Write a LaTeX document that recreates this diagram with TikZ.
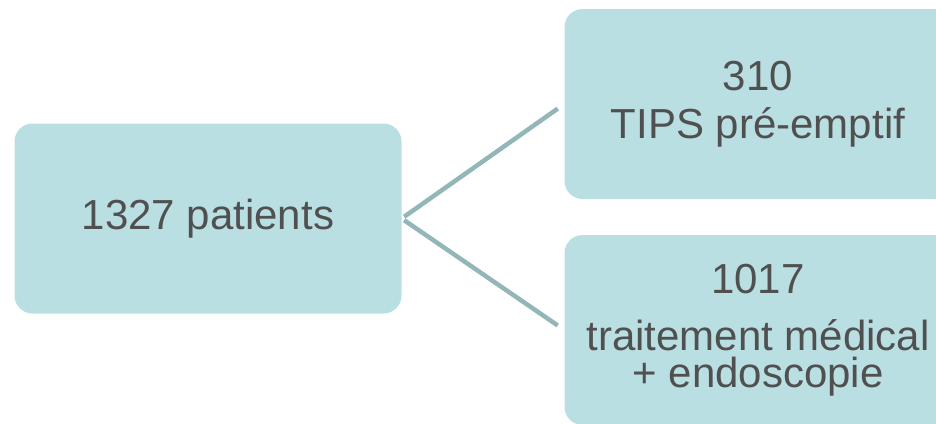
\documentclass[tikz,border=0pt]{standalone}
\usepackage{fontspec}
\setmainfont{Liberation Sans}
\usetikzlibrary{positioning}
\definecolor{boxfill}{HTML}{BADFE2}
\definecolor{linkcol}{HTML}{93B6B8}
\definecolor{txtcol}{HTML}{505050}

\begin{document}
\begin{tikzpicture}[x=1pt,y=-1pt,
  box/.style={fill=boxfill,rounded corners=18pt,text=txtcol,align=center,inner sep=0pt,
    minimum width=387pt,minimum height=190pt,font=\fontsize{42}{37}\selectfont},
  link/.style={draw=linkcol,line width=4.5pt,shorten <=3pt,shorten >=8pt}]
\useasboundingbox (0,0) rectangle (936,423);
\clip (0,0) rectangle (936,423);

% Start box
\node[box] (patients) at (208,218.5) {1327 patients};
% The two groups
\node[box] (tips) at (758,104) {310\\[11pt]TIPS pré-emptif};
\node[box] (medical) at (758,330) {1017\\[20pt]traitement médical\\+ endoscopie};

% From the start box to each group
\draw[link] (patients.east) -- (tips.west);
\draw[link] (patients.east) -- (medical.west);
\end{tikzpicture}
\end{document}
